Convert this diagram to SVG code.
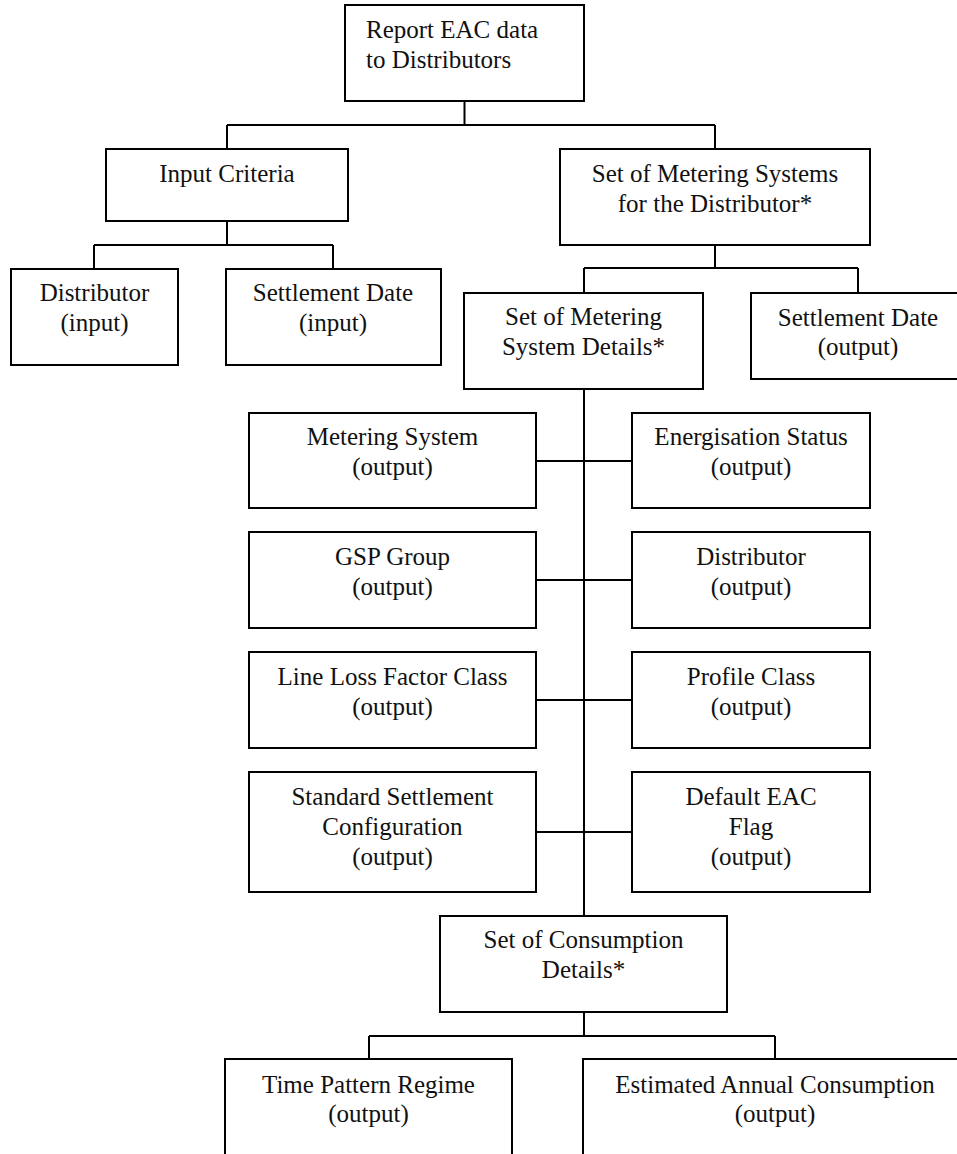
<svg xmlns="http://www.w3.org/2000/svg" width="957" height="1154" viewBox="0 0 957 1154">
<style>
.box{fill:#fff;stroke:#000;stroke-width:2}
.t{font-family:"Liberation Serif","Times New Roman",serif;font-size:25px;fill:#111;text-anchor:middle}
.ts{font-family:"Liberation Serif","Times New Roman",serif;font-size:25px;fill:#111;text-anchor:start}
.c{fill:none;stroke:#000;stroke-width:2}
</style>
<rect width="957" height="1154" fill="#fff"/>
<g id="connectors">
<path class="c" d="M464.5 101V125M227 125H715M227 125V149M715 125V149"/>
<path class="c" d="M227 221V245M94 245H333M94 245V269M333 245V269"/>
<path class="c" d="M715 245V268M584 268H858M584 268V293M858 268V293"/>
<path class="c" d="M584 389V916"/>
<path class="c" d="M536 461H632M536 580H632M536 700H632M536 832H632"/>
<path class="c" d="M584 1012V1036M369 1036H775M369 1036V1059M775 1036V1059"/>
</g>
<g id="n-report"><rect class="box" x="345" y="5" width="239" height="96"/><text class="ts" x="366" y="38">Report EAC data</text><text class="ts" x="366" y="68">to Distributors</text></g>
<g id="n-input-criteria"><rect class="box" x="106" y="149" width="242" height="72"/><text class="t" x="227" y="182">Input Criteria</text></g>
<g id="n-distributor-input"><rect class="box" x="11" y="269" width="167" height="96"/><text class="t" x="94.5" y="301">Distributor</text><text class="t" x="94.5" y="331">(input)</text></g>
<g id="n-settlement-input"><rect class="box" x="226" y="269" width="215" height="96"/><text class="t" x="333" y="301">Settlement Date</text><text class="t" x="333" y="331">(input)</text></g>
<g id="n-set-ms"><rect class="box" x="560" y="149" width="310" height="96"/><text class="t" x="715" y="182">Set of Metering Systems</text><text class="t" x="715" y="212">for the Distributor*</text></g>
<g id="n-set-msd"><rect class="box" x="464" y="293" width="239" height="96"/><text class="t" x="583.5" y="325">Set of Metering</text><text class="t" x="583.5" y="355">System Details*</text></g>
<g id="n-settlement-output"><rect class="box" x="751" y="293" width="216" height="86"/><text class="t" x="858" y="326">Settlement Date</text><text class="t" x="858" y="355">(output)</text></g>
<g id="n-metering-system"><rect class="box" x="249" y="413" width="287" height="95"/><text class="t" x="392.5" y="445">Metering System</text><text class="t" x="392.5" y="475">(output)</text></g>
<g id="n-energisation"><rect class="box" x="632" y="413" width="238" height="95"/><text class="t" x="751" y="445">Energisation Status</text><text class="t" x="751" y="475">(output)</text></g>
<g id="n-gsp"><rect class="box" x="249" y="532" width="287" height="96"/><text class="t" x="392.5" y="565">GSP Group</text><text class="t" x="392.5" y="595">(output)</text></g>
<g id="n-distributor-output"><rect class="box" x="632" y="532" width="238" height="96"/><text class="t" x="751" y="565">Distributor</text><text class="t" x="751" y="595">(output)</text></g>
<g id="n-llf"><rect class="box" x="249" y="652" width="287" height="96"/><text class="t" x="392.5" y="685">Line Loss Factor Class</text><text class="t" x="392.5" y="715">(output)</text></g>
<g id="n-profile"><rect class="box" x="632" y="652" width="238" height="96"/><text class="t" x="751" y="685">Profile Class</text><text class="t" x="751" y="715">(output)</text></g>
<g id="n-ssc"><rect class="box" x="249" y="772" width="287" height="120"/><text class="t" x="392.5" y="805">Standard Settlement</text><text class="t" x="392.5" y="835">Configuration</text><text class="t" x="392.5" y="865">(output)</text></g>
<g id="n-default-eac"><rect class="box" x="632" y="772" width="238" height="120"/><text class="t" x="751" y="805">Default EAC</text><text class="t" x="751" y="835">Flag</text><text class="t" x="751" y="865">(output)</text></g>
<g id="n-set-cd"><rect class="box" x="440" y="916" width="287" height="96"/><text class="t" x="583.5" y="948">Set of Consumption</text><text class="t" x="583.5" y="978">Details*</text></g>
<g id="n-tpr"><rect class="box" x="225" y="1059" width="287" height="140"/><text class="t" x="368.5" y="1093">Time Pattern Regime</text><text class="t" x="368.5" y="1122">(output)</text></g>
<g id="n-eac"><rect class="box" x="583" y="1059" width="384" height="140"/><text class="t" x="775" y="1093">Estimated Annual Consumption</text><text class="t" x="775" y="1122">(output)</text></g>
</svg>
